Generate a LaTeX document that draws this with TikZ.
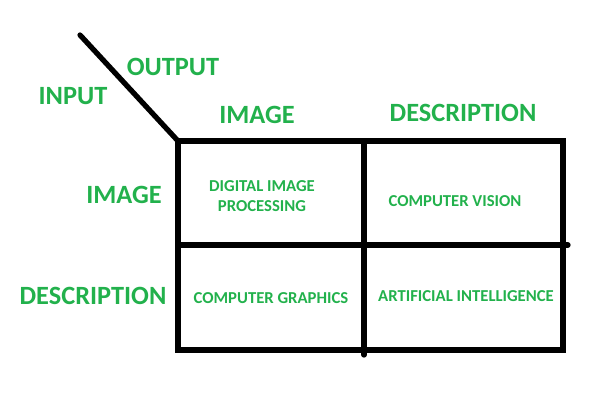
\documentclass[tikz,border=0pt]{standalone}
\usepackage{fontspec}
\setmainfont{Carlito}
\definecolor{paintgreen}{RGB}{34,177,76}

\begin{document}
\begin{tikzpicture}[scale=1,
	grid/.style={line width=3pt, line cap=round},
	head/.style={text=paintgreen, font=\bfseries\fontsize{15}{17}\selectfont},
	cell/.style={text=paintgreen, font=\bfseries\fontsize{9.5}{11.5}\selectfont, align=center}]
	\useasboundingbox (0,0) rectangle (12,8);
	
	\coordinate (tl) at (3.56,5.18);
	\coordinate (tr) at (11.26,5.18);
	\coordinate (br) at (11.26,1.0);
	\coordinate (bl) at (3.56,1.0);
	\coordinate (slash) at (1.6,7.3);
	
	\draw[grid] (slash) -- (tl);
	\draw[grid] (tl) -- (tr) -- (br) -- (bl) -- cycle;
	\draw[grid] (7.28,5.18) -- (7.28,0.9);
	\draw[grid] (3.56,3.1) -- (11.36,3.1);
	
	\node[head] (output) at (3.46,6.66) {OUTPUT};
	\node[head] (input) at (1.46,6.08) {INPUT};
	\node[head] (imgcol) at (5.14,5.70) {IMAGE};
	\node[head] (desccol) at (9.26,5.74) {DESCRIPTION};
	\node[head] (imgrow) at (2.48,4.10) {IMAGE};
	\node[head] (descrow) at (1.86,2.08) {DESCRIPTION};
	
	\node[cell] (dip) at (5.24,4.08) {DIGITAL IMAGE\\PROCESSING};
	\node[cell] (cv) at (9.10,3.98) {COMPUTER VISION};
	\node[cell] (cg) at (5.42,2.04) {COMPUTER GRAPHICS};
	\node[cell] (ai) at (9.32,2.08) {ARTIFICIAL INTELLIGENCE};
\end{tikzpicture}
\end{document}
